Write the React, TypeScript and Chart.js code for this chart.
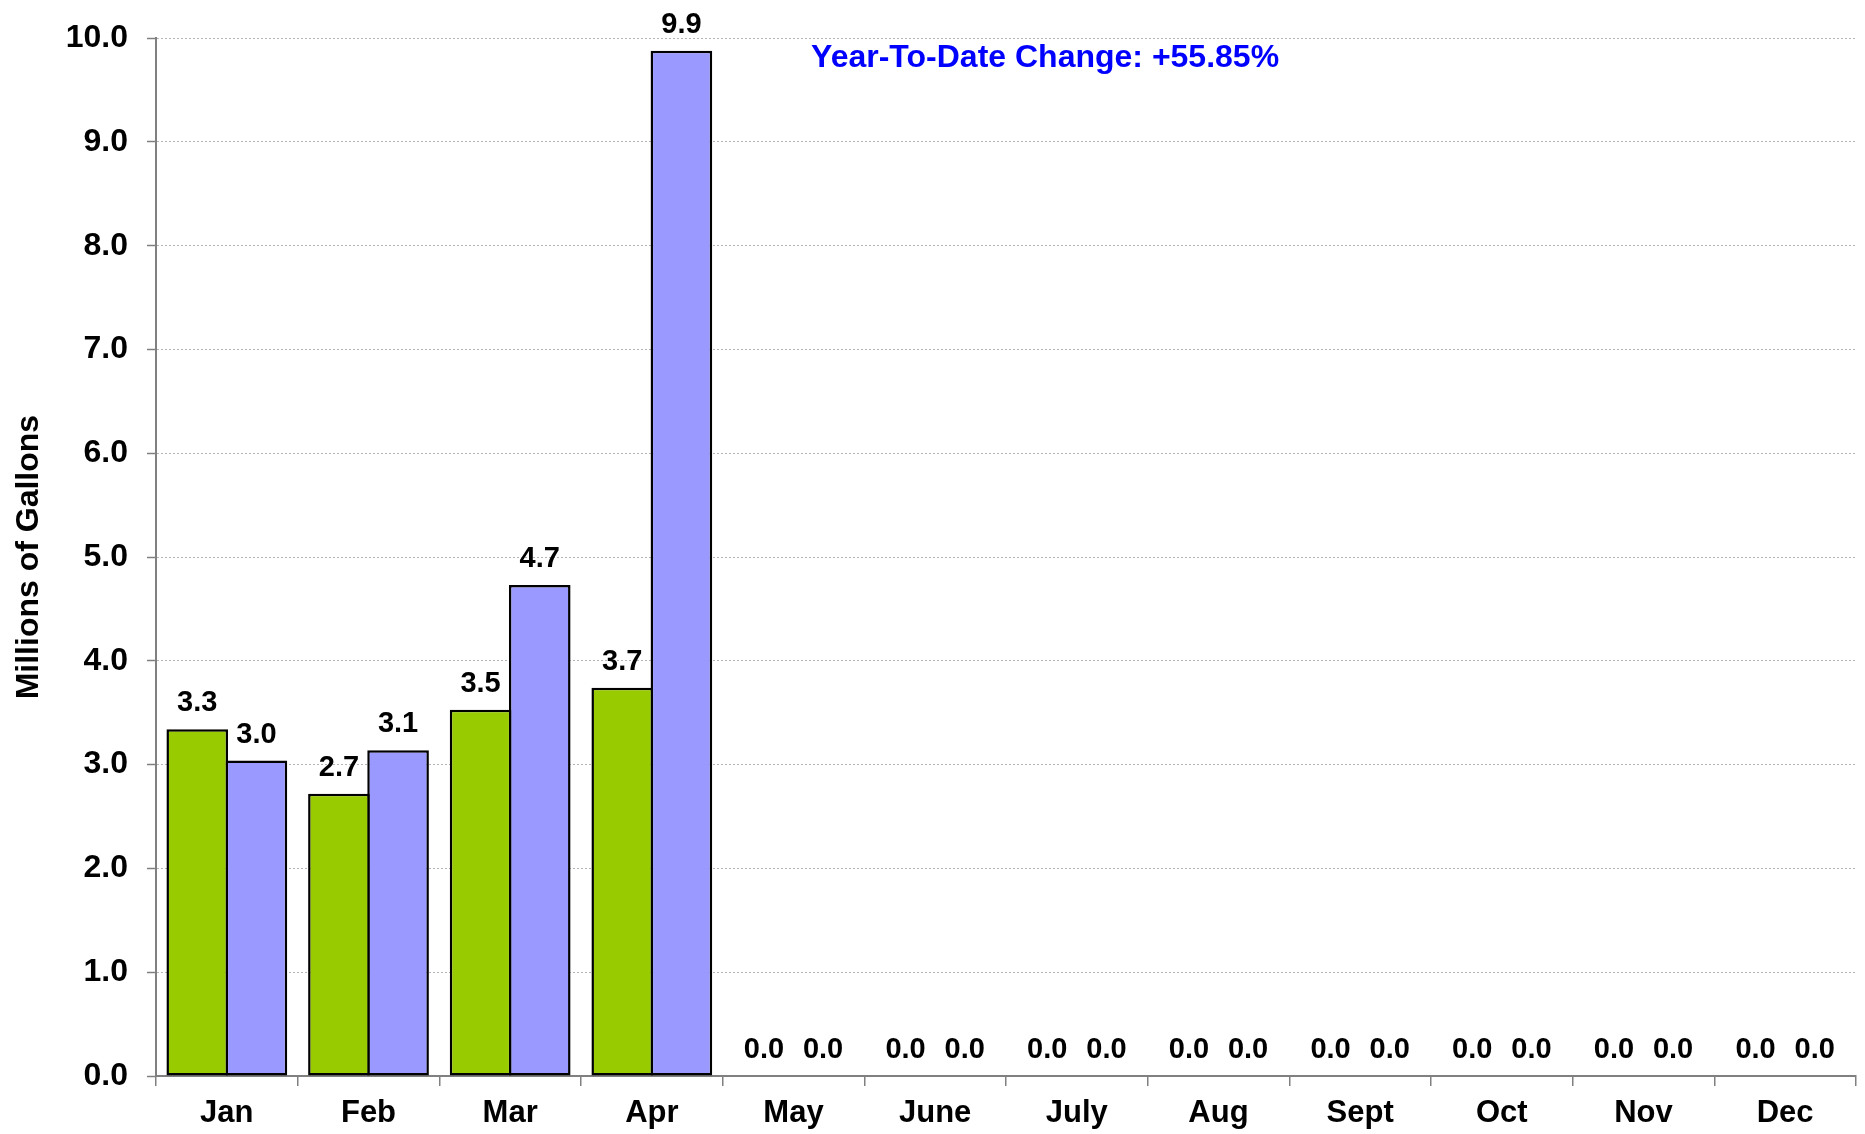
import React, { useEffect, useRef } from "react";
import { Chart, registerables } from "chart.js";

Chart.register(...registerables);

const months = ["Jan", "Feb", "Mar", "Apr", "May", "June", "July", "Aug", "Sept", "Oct", "Nov", "Dec"];
const previousYear = [3.34, 2.72, 3.53, 3.74, 0, 0, 0, 0, 0, 0, 0, 0];
const currentYear = [3.04, 3.14, 4.73, 9.88, 0, 0, 0, 0, 0, 0, 0, 0];
const yMin = 0;
const yMax = 10;
const yStep = 1;
const axisTitle = "Millions of Gallons";
const ytdText = "Year-To-Date Change: +55.85%";

const FONT = "'Liberation Sans', Arial, Helvetica, sans-serif";

const dataLabelPlugin = {
  id: "dataLabels",
  afterDatasetsDraw(chart: any) {
    const ctx = chart.ctx;
    ctx.save();
    ctx.font = `bold 29px ${FONT}`;
    ctx.fillStyle = "#000000";
    ctx.textAlign = "center";
    ctx.textBaseline = "alphabetic";
    chart.data.datasets.forEach((ds: any, di: number) => {
      const meta = chart.getDatasetMeta(di);
      meta.data.forEach((el: any, i: number) => {
        const v = ds.data[i] as number;
        ctx.fillText(v.toFixed(1), el.x, el.y - 18);
      });
    });
    ctx.restore();
  },
};

const ytdPlugin = {
  id: "ytdText",
  afterDraw(chart: any) {
    const ctx = chart.ctx;
    const area = chart.chartArea;
    ctx.save();
    ctx.font = `bold 32px ${FONT}`;
    ctx.fillStyle = "#0000FF";
    ctx.textAlign = "center";
    ctx.textBaseline = "alphabetic";
    ctx.fillText(ytdText, area.left + area.width * 0.523, area.top + 28.5);
    ctx.restore();
  },
};

export default function App() {
  const ref = useRef<HTMLCanvasElement>(null);

  useEffect(() => {
    if (!ref.current) return;
    const chart = new Chart(ref.current, {
      type: "bar",
      data: {
        labels: months,
        datasets: [
          {
            label: "Previous",
            data: previousYear,
            backgroundColor: "#99CC00",
            borderColor: "#000000",
            borderWidth: 2.5,
            borderSkipped: false,
            categoryPercentage: 0.835,
            barPercentage: 1.042,
          },
          {
            label: "Current",
            data: currentYear,
            backgroundColor: "#9999FF",
            borderColor: "#000000",
            borderWidth: 2.5,
            borderSkipped: false,
            categoryPercentage: 0.835,
            barPercentage: 1.042,
          },
        ],
      },
      options: {
        responsive: false,
        animation: false,
        layout: { padding: { top: 36, right: 9, bottom: 0, left: 0 } },
        plugins: {
          legend: { display: false },
          tooltip: { enabled: false },
          title: { display: false },
        },
        scales: {
          x: {
            offset: true,
            grid: {
              display: true,
              offset: true,
              drawOnChartArea: false,
              drawTicks: true,
              tickLength: 10,
              color: "#808080",
              lineWidth: 1.5,
            },
            border: { display: true, color: "#808080", width: 2 },
            ticks: {
              color: "#000000",
              padding: 9,
              maxRotation: 0,
              autoSkip: false,
              font: { family: FONT, size: 31, weight: "bold" },
            },
            afterFit(scale: any) {
              scale.height = 58;
            },
          },
          y: {
            min: yMin,
            max: yMax,
            ticks: {
              stepSize: yStep,
              color: "#000000",
              padding: 19,
              font: { family: FONT, size: 32, weight: "bold" },
              callback: (v: any) => Number(v).toFixed(1),
            },
            grid: {
              color: "#b4b4b4",
              lineWidth: 1,
              drawTicks: true,
              tickLength: 9,
              tickColor: "#808080",
              tickWidth: 1.5,
              tickBorderDash: [],
              borderDash: [2, 2],
            } as any,
            border: { display: true, color: "#808080", width: 2, dash: [2, 2] } as any,
            title: {
              display: true,
              text: axisTitle,
              color: "#000000",
              padding: { top: 10, bottom: 0 },
              font: { family: FONT, size: 32, weight: "bold" },
            },
            afterFit(scale: any) {
              scale.width = 156;
            },
          },
        },
      },
      plugins: [dataLabelPlugin, ytdPlugin],
    });
    return () => chart.destroy();
  }, []);

  return (
    <div style={{ position: "absolute", left: 0, top: 0, width: 1865, height: 1134, background: "#ffffff" }}>
      <canvas ref={ref} width={1865} height={1134} style={{ display: "block" }} />
    </div>
  );
}
